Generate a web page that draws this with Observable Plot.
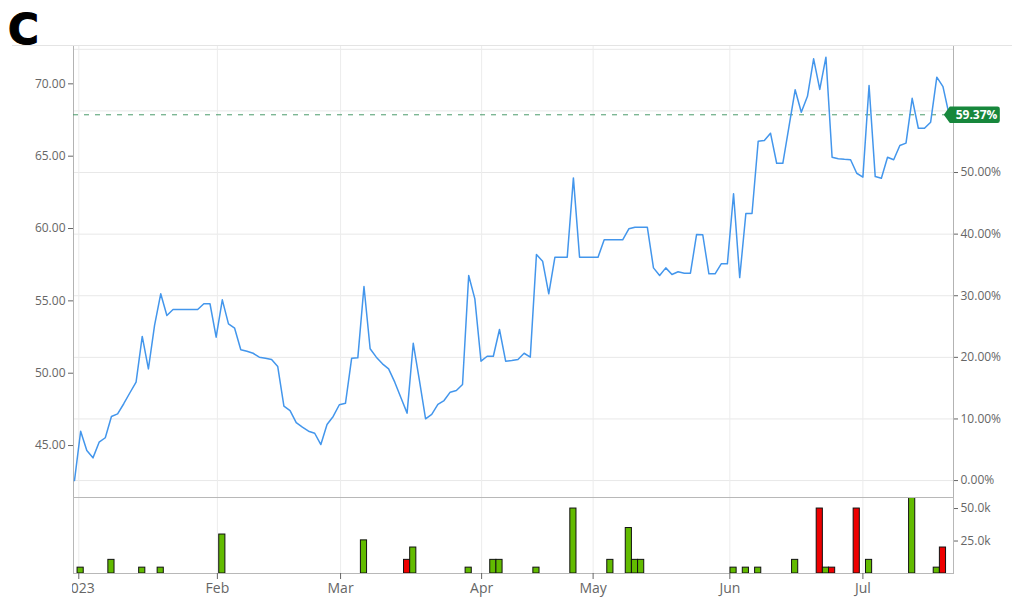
<!DOCTYPE html>
<html>
<head>
<meta charset="utf-8">
<script src="https://cdn.jsdelivr.net/npm/d3@7"></script>
<script src="https://cdn.jsdelivr.net/npm/@observablehq/plot@0.6"></script>
<style>
  body { margin: 0; background: #fff; }
  #wrap { position: relative; width: 1024px; height: 616px; overflow: hidden; background: #fff; }
  #wrap > svg.chart { position: absolute; left: 0; }
</style>
</head>
<body>
<div id="wrap">
  <div id="topline" style="position:absolute;top:45px;left:12px;width:1000px;height:1px;background:#e4e4e4;"></div>
  <svg id="logo" style="position:absolute;left:0;top:0;overflow:visible" width="90" height="60"><text x="8" y="44" font-family="DejaVu Sans" font-weight="bold" font-size="42" stroke="#000" stroke-width="1.2">C</text></svg>
</div>
<script>
// ---- data ----
const price = [
  42.58, 45.99, 44.66, 44.15, 45.23, 45.54, 47.01, 47.19, 47.89, 48.65,
  49.38, 52.54, 50.30, 53.30, 55.49, 53.99, 54.40, 54.40, 54.40, 54.40,
  54.40, 54.80, 54.80, 52.49, 55.07, 53.41, 53.11, 51.62, 51.52, 51.38,
  51.11, 51.04, 50.95, 50.46, 47.72, 47.42, 46.58, 46.27, 45.99, 45.85,
  45.07, 46.45, 47.01, 47.82, 47.93, 51.04, 51.06, 55.99, 51.69, 51.11,
  50.65, 50.30, 49.38, 48.30, 47.24, 52.07, 49.50, 46.85, 47.15, 47.84,
  48.11, 48.69, 48.80, 49.22, 56.75, 55.14, 50.83, 51.17, 51.17, 53.02,
  50.83, 50.88, 50.95, 51.38, 51.11, 58.20, 57.74, 55.49, 58.02, 58.02,
  58.02, 63.50, 58.02, 58.02, 58.02, 58.02, 59.22, 59.22, 59.22, 59.22,
  59.98, 60.09, 60.09, 60.09, 57.28, 56.75, 57.28, 56.82, 57.01, 56.91,
  56.91, 59.59, 59.57, 56.87, 56.87, 57.56, 57.56, 62.40, 56.61, 61.04,
  61.04, 66.03, 66.08, 66.59, 64.51, 64.51, 67.05, 69.59, 68.04, 69.14,
  71.73, 69.61, 71.84, 64.93, 64.82, 64.78, 64.75, 63.82, 63.55, 69.88,
  63.59, 63.48, 64.93, 64.75, 65.74, 65.90, 69.00, 66.93, 66.93, 67.35,
  70.46, 69.81, 67.86
];
const volIndex = [1, 6, 11, 14, 24, 47, 54, 55, 64, 68, 69, 75, 81, 87, 90, 91, 92,
  107, 109, 111, 117, 121, 122, 123, 127, 129, 136, 140, 141];
const volValue = [4500, 10500, 4500, 4500, 30000, 25500, 10500, 20000, 4500, 10500, 10500, 4500, 50000, 10500, 35000, 10500, 10500,
  4500, 4500, 4500, 10500, 50000, 4500, 4500, 50000, 10500, 58500, 4500, 20000];
const volDir = ["up", "up", "up", "up", "up", "up", "down", "up", "up", "up", "up", "up", "up", "up", "up", "up", "up",
  "up", "up", "up", "up", "down", "up", "down", "down", "up", "up", "up", "down"];
const monthPos = [0.7, 23.2, 43.2, 66.1, 84.2, 106.4, 128.0];
const monthLabels = ["2023", "Feb", "Mar", "Apr", "May", "Jun", "Jul"];
const leftTicks = [45, 50, 55, 60, 65, 70];
const pctGrid = [0, 10, 20, 30, 40, 50, 60, 70];
const pctLabels = [0, 10, 20, 30, 40, 50];
const volTicks = [25000, 50000];

// ---- chart ----
const N = price.length;
const base = price[0], last = price[N - 1];
const xDomain = [-0.16, N - 1 + 0.71];
const W = 1024, ML = 73, MR = 71;
const pctToPrice = p => base * (1 + p / 100);
const fmtPct = d => ((d / base - 1) * 100).toFixed(2) + "%";
const font = "'Open Sans', 'Noto Sans', sans-serif";

const badge = {
  draw(ctx) {
    ctx.moveTo(-9.7, 0);
    ctx.lineTo(-3.7, -8.3);
    ctx.lineTo(44, -8.3);
    ctx.quadraticCurveTo(46.3, -8.3, 46.3, -6);
    ctx.lineTo(46.3, 6);
    ctx.quadraticCurveTo(46.3, 8.3, 44, 8.3);
    ctx.lineTo(-3.7, 8.3);
    ctx.closePath();
  }
};

const p1 = Plot.plot({
  width: W, height: 497, marginTop: 46, marginBottom: 0, marginLeft: ML, marginRight: MR,
  style: {fontFamily: font, fontSize: "12px", color: "#666", background: "transparent", overflow: "visible"},
  x: {domain: xDomain, axis: null},
  y: {domain: [41.41, 72.58], axis: null},
  marks: [
    Plot.gridY({ticks: pctGrid.map(pctToPrice), stroke: "#e8e8e8", strokeOpacity: 1}),
    Plot.gridX({ticks: monthPos, stroke: "#ececec", strokeOpacity: 1}),
    Plot.ruleX(xDomain, {stroke: "#b3b3b3"}),
    Plot.axisY({anchor: "left", ticks: leftTicks, tickFormat: d => d.toFixed(2), tickSize: 5, tickPadding: 3, label: null}),
    Plot.axisY({anchor: "right", ticks: pctLabels.map(pctToPrice), tickFormat: fmtPct, tickSize: 4, tickPadding: 3, label: null}),
    Plot.ruleY([last], {stroke: "#4a9b6a", strokeDasharray: "5,6"}),
    Plot.lineY(price, {x: (d, i) => i, y: d => d, stroke: "#4396ec", strokeWidth: 1.5}),
    Plot.dot([last], {y: d => d, frameAnchor: "right", symbol: badge, fill: "#17873c"}),
    Plot.text([last], {y: d => d, frameAnchor: "right", dx: 23, text: fmtPct, fill: "white", fontWeight: "bold", fontSize: 12, textAnchor: "middle"})
  ]
});

const volData = volIndex.map((i, k) => ({i, v: volValue[k], dir: volDir[k]}));
const p2 = Plot.plot({
  width: W, height: 119, marginTop: 0, marginBottom: 43, marginLeft: ML, marginRight: MR,
  style: {fontFamily: font, fontSize: "12px", color: "#666", background: "transparent", overflow: "visible"},
  x: {domain: xDomain, axis: null},
  y: {domain: [0, d3.max(volValue)], axis: null},
  color: {domain: ["up", "down"], range: ["#62bb00", "#ee0000"]},
  marks: [
    Plot.gridX({ticks: monthPos, stroke: "#ececec", strokeOpacity: 1}),
    Plot.rectY(volData, {x1: d => d.i - 0.5, x2: d => d.i + 0.5, y: "v", fill: "dir", stroke: "#111", strokeWidth: 1}),
    Plot.frame({stroke: "#b8b8b8"}),
    Plot.axisY({anchor: "right", ticks: volTicks, tickFormat: d => (d / 1000).toFixed(1) + "k", tickSize: 4, tickPadding: 3, label: null}),
    Plot.axisX({ticks: monthPos, tickFormat: d => monthLabels[monthPos.indexOf(d)], tickSize: 6, tickPadding: 4, fontSize: 14, label: null})
  ]
});

const wrap = document.getElementById("wrap");
p1.classList.add("chart"); p1.style.top = "0px";
p2.classList.add("chart"); p2.style.top = "497px";
p2.style.clipPath = "inset(0 0 0 72px)";
wrap.prepend(p2);
wrap.prepend(p1);
</script>
</body>
</html>
